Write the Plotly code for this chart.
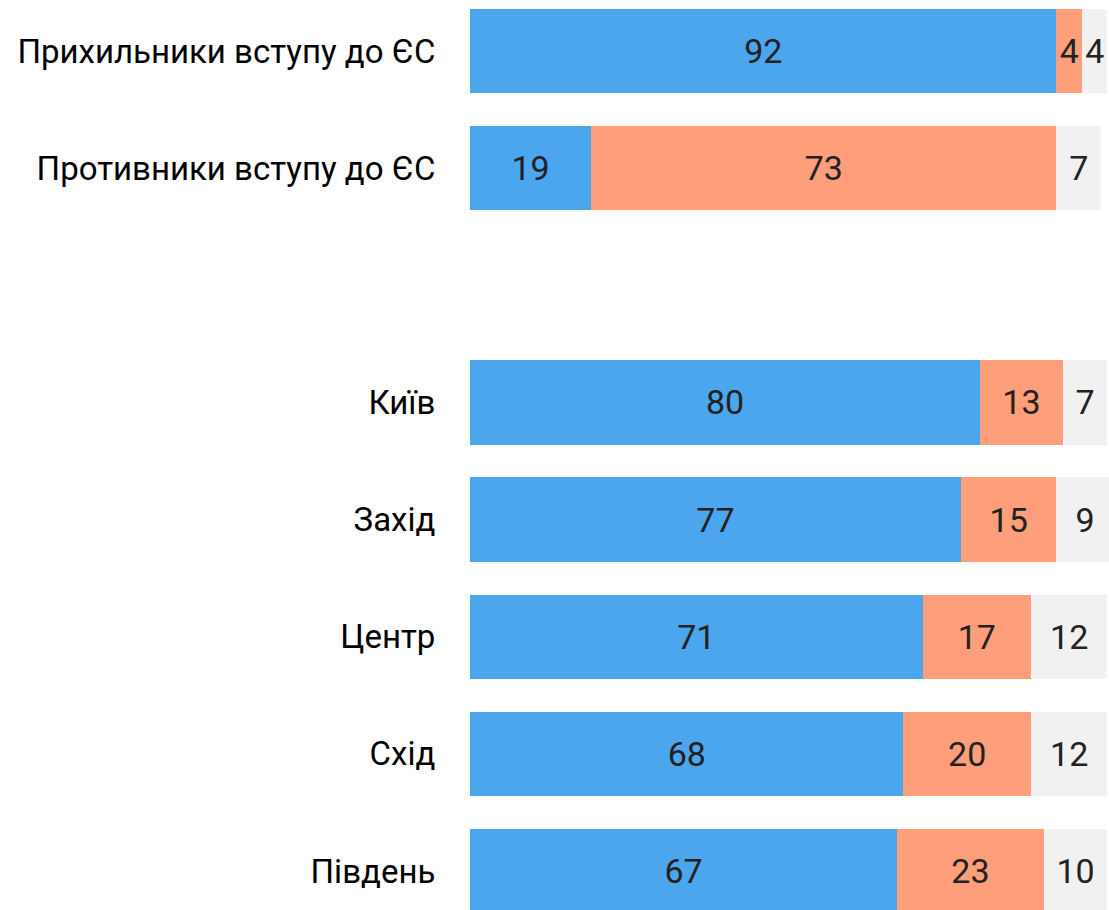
import plotly.graph_objects as go

categories = ["Прихильники вступу до ЄС", "Противники вступу до ЄС", "",
              "Київ", "Захід", "Центр", "Схід", "Південь"]
positive = [92, 19, None, 80, 77, 71, 68, 67]
negative = [4, 73, None, 13, 15, 17, 20, 23]
undecided = [4, 7, None, 7, 9, 12, 12, 10]

series = [
    ("Позитивно", positive, "#4BA6EE"),
    ("Негативно", negative, "#FF9E7A"),
    ("Важко сказати", undecided, "#F1F1F1"),
]

rows = list(range(len(categories)))
fig = go.Figure()
for name, vals, color in series:
    fig.add_trace(go.Bar(
        y=rows, x=vals, name=name, orientation="h",
        marker=dict(color=color, line=dict(width=0)),
        text=[("" if v is None else str(v)) for v in vals],
        textposition="inside", insidetextanchor="middle",
        constraintext="none",
        textfont=dict(family="Roboto", size=34, color="#222222"),
        hoverinfo="skip",
    ))

tick_rows = [r for r, c in zip(rows, categories) if c]
tick_text = [c for c in categories if c]

fig.update_layout(
    barmode="stack", bargap=0.28,
    width=1109, height=910,
    margin=dict(l=470, r=0, t=0, b=0),
    paper_bgcolor="white", plot_bgcolor="white",
    showlegend=False,
    uniformtext=dict(minsize=34, mode="show"),
    font=dict(family="Roboto", color="#000000"),
)
fig.update_xaxes(range=[0, 100.24], visible=False, fixedrange=True)
fig.update_yaxes(
    range=[7.333, -0.4354], tickmode="array", tickvals=tick_rows, ticktext=tick_text,
    tickfont=dict(family="Roboto", size=33, color="#000000"),
    ticks="outside", ticklen=27, tickcolor="rgba(0,0,0,0)",
    showgrid=False, zeroline=False, showline=False, fixedrange=True,
)
fig.write_html("out.html")
